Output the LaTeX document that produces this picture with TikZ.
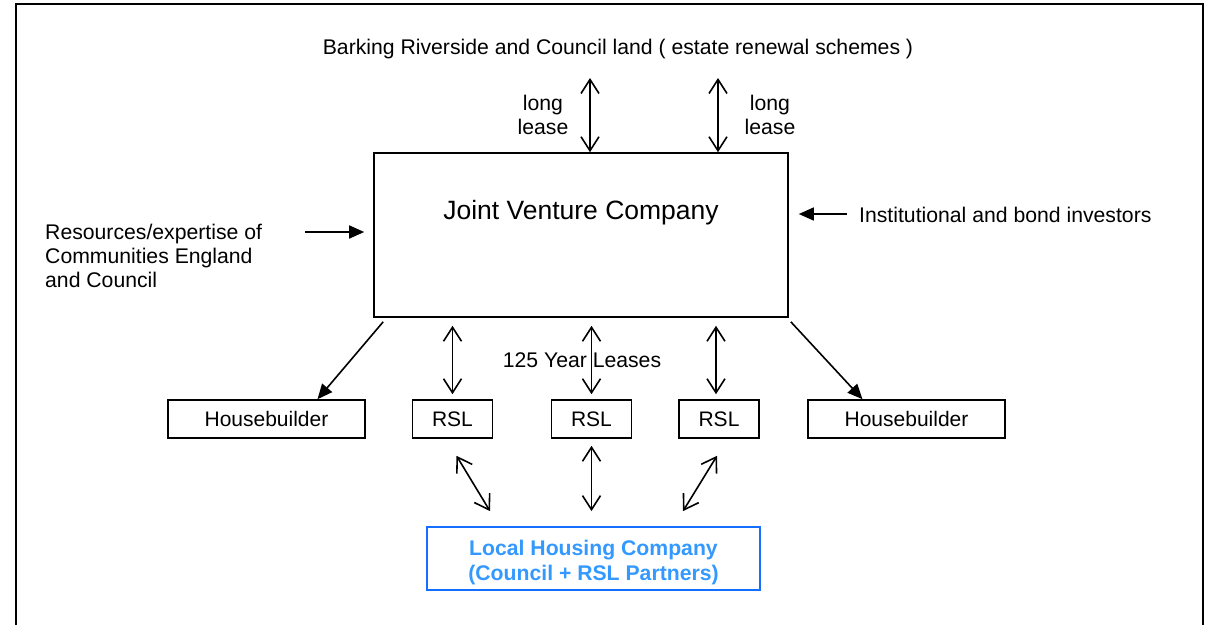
\documentclass[tikz,border=0pt]{standalone}
\usepackage{fontspec}
\setmainfont{Liberation Sans}
\usepackage{xcolor}
\usepackage{tikz}
\usetikzlibrary{positioning, arrows.meta}
\definecolor{lhcblue}{RGB}{51,153,255}
\definecolor{lhcedge}{RGB}{20,110,255}

\begin{document}
\begin{tikzpicture}[x=1pt, y=-1pt,
	txt/.style={font=\fontsize{21.2}{24}\selectfont, inner sep=0},
	party/.style={rectangle, draw=black, line width=1.6, minimum height=38, inner sep=0, font=\fontsize{21}{24}\selectfont},
	jvbox/.style={rectangle, draw=black, line width=1.6, minimum width=414, minimum height=164, inner sep=0},
	lhcbox/.style={rectangle, draw=lhcedge, line width=1.8, minimum width=333, minimum height=63, inner sep=0, align=center, text=lhcblue, font=\fontsize{21.2}{25}\selectfont\bfseries},
	dbl/.style={{Straight Barb[length=14, width=18]}-{Straight Barb[length=14, width=18]}, line width=1.6},
	one/.style={-{Triangle[length=15, width=13]}, line width=1.6},
	]
		\useasboundingbox (0,0) rectangle (1205,625);
		\draw[line width=1.8] (16,625) -- (16,4) -- (1203,4) -- (1203,625);

		%Nodes
		\node[txt]               (land)     at (618,49)   {Barking Riverside and Council land ( estate renewal schemes )};
		\node[jvbox]             (JV)       at (581,235)  {};
		\node[txt, font=\fontsize{26.5}{30}\selectfont] (JVname) at (581,213) {Joint Venture Company};
		\node[txt, align=center] (leaseL)   at (543,115)  {long\\lease};
		\node[txt, align=center] (leaseR)   at (770,115)  {long\\lease};
		\node[txt, align=left, anchor=west] (res) at (45,256) {Resources/expertise of\\Communities England\\and Council};
		\node[txt, anchor=west]  (bonds)    at (859,215)  {Institutional and bond investors};
		\node[txt]               (leases)   at (582,360)  {125 Year Leases};

		\node[party, minimum width=197] (HB1)  at (266.5,419) {Housebuilder};
		\node[party, minimum width=80]  (RSL1) at (452.5,419) {RSL};
		\node[party, minimum width=80]  (RSL2) at (591.5,419) {RSL};
		\node[party, minimum width=80]  (RSL3) at (719,419)   {RSL};
		\node[party, minimum width=197] (HB2)  at (906.5,419) {Housebuilder};
		\node[lhcbox]            (LHC)      at (593.5,558.5) {\rule{0pt}{23pt}Local Housing Company\\(Council + RSL Partners)};

		\coordinate (landL) at (590,78);
		\coordinate (landR) at (718,78);
		\coordinate (resIn) at (305,232);
		\coordinate (bondIn) at (847,214);

		%Lines
		\draw[dbl] (landL) -- (landL |- JV.north);
		\draw[dbl] (landR) -- (landR |- JV.north);
		\draw[one, shorten >=9] (resIn) -- (JV.west |- resIn);
		\draw[one, shorten >=10] (bondIn) -- (JV.east |- bondIn);

		\draw[one] ([xshift=10, yshift=-4]JV.south west) -- ([xshift=51]HB1.north);
		\draw[one] ([xshift=2, yshift=-4]JV.south east) -- ([xshift=-44]HB2.north);
		\draw[dbl, shorten <=8, shorten >=5] (RSL1.north |- JV.south) -- (RSL1.north);
		\draw[dbl, shorten <=8, shorten >=5] (RSL2.north |- JV.south) -- (RSL2.north);
		\draw[dbl, shorten <=8, shorten >=5] ([xshift=-3]RSL3.north |- JV.south) -- ([xshift=-3]RSL3.north);

		\draw[dbl] ([xshift=4, yshift=-17]RSL1.south) -- ([xshift=-103.5, yshift=15]LHC.north);
		\draw[dbl, shorten <=7, shorten >=15] (RSL2.south) -- (RSL2.south |- LHC.north);
		\draw[dbl] ([xshift=-2, yshift=-17]RSL3.south) -- ([xshift=89.5, yshift=15]LHC.north);
	\end{tikzpicture}
\end{document}
